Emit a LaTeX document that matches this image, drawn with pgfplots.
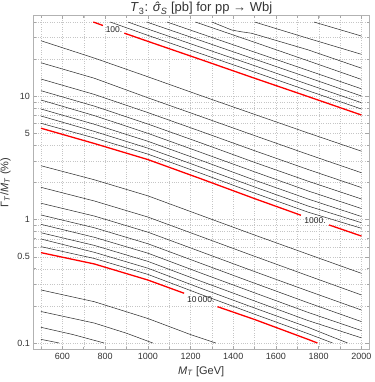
\documentclass[border=0pt]{standalone}
\usepackage{fontspec}
\setmainfont{Liberation Sans}
\usepackage{pgfplots}
\pgfplotsset{compat=1.18}
\newcommand{\sighat}{\textit{σ\kern-0.45em ˆ\kern0.12em}}
\begin{document}
\begin{tikzpicture}
\path[use as bounding box] (-33.5pt,-32.6pt) rectangle (340.5pt,349.4pt);
\begin{axis}[
  at={(0pt,0pt)}, anchor=south west,
  scale only axis, width=335.4pt, height=333.8pt,
  xmin=465, xmax=2035, ymode=log, ymin=0.0887, ymax=45.1,
  xtick={600,800,1000,1200,1400,1600,1800,2000},
  minor xtick={500,700,900,1100,1300,1500,1700,1900},
  ytick={0.1,0.5,1,5,10}, yticklabels={0.1,0.5,1,5,10},
  minor ytick={0.2,0.3,0.4,0.6,0.7,0.8,0.9,2,3,4,6,7,8,9,20,30,40},
  grid=both,
  grid style={dash pattern=on 0.7pt off 1.6pt, gray!45, line width=0.4pt},
  minor grid style={dash pattern=on 0.7pt off 1.6pt, gray!45, line width=0.4pt},
  axis line style={gray!60, line width=0.8pt},
  tick style={gray!70, line width=0.5pt},
  major tick length=3.5pt, minor tick length=2pt,
  scaled x ticks=false,
  /pgf/number format/1000 sep={},
  /pgf/number format/assume math mode=true,
  tick label style={font=\fontsize{9}{10}\selectfont, text=black!80},
  xlabel={\textit{M}\textsubscript{\textit{T}} [GeV]},
  ylabel={Γ\textsubscript{\textit{T}}/\textit{M}\textsubscript{\textit{T}} (\%)},
  label style={font=\fontsize{11}{12}\selectfont, text=black!80},
  title={\textit{T}\textsubscript{3}: \sighat\textsubscript{\textit{S}} [pb] for pp → Wbj},
  every axis title/.style={at={(0.5,1)}, anchor=base, yshift=3.6pt, inner sep=0pt, font=\fontsize{13}{14}\selectfont, text=black!80},
  no markers,
  cl/.style={draw=black!80, line width=0.55pt},
  rl/.style={draw=red, line width=1.3pt},
]
% levels 20 ... 90
\addplot[cl] coordinates {(1778,40.0) (2000,30.8)};
\addplot[cl] coordinates {(1500,40.0) (1750,29.5) (2000,21.9)};
\addplot[cl] coordinates {(1300,40.0) (1394,34.4) (1440,33.3) (1487,32.4) (1750,23.8) (2000,16.9)};
\addplot[cl] coordinates {(1223,40.0) (1500,27.4) (1750,19.4) (2000,13.7)};
\addplot[cl] coordinates {(1090,40.0) (1250,32.1) (1500,22.8) (1750,16.2) (2000,11.5)};
\addplot[cl] coordinates {(995,40.0) (1250,28.2) (1500,20.0) (1750,14.2) (2000,10.05)};
\addplot[cl] coordinates {(907,40.0) (1000,35.1) (1250,24.9) (1500,17.7) (1750,12.5) (2000,8.87)};
\addplot[cl] coordinates {(824,40.0) (1000,31.2) (1250,22.1) (1500,15.7) (1750,11.1) (2000,7.89)};
% level 100
\addplot[rl] coordinates {(745,40.0) (790,37.5)};
\addplot[rl] coordinates {(890,32.5) (1000,27.9) (1250,19.8) (1500,14.0) (1750,9.95) (2000,7.05)};
% levels 200 ... 900
\addplot[cl] coordinates {(500,28.2) (750,20.4) (1000,14.4) (1250,10.1) (1500,7.13) (1750,5.04) (2000,3.59)};
\addplot[cl] coordinates {(500,18.7) (750,14.0) (1000,9.73) (1250,6.84) (1500,4.80) (1750,3.38) (2000,2.40)};
\addplot[cl] coordinates {(500,13.8) (750,10.35) (1000,7.38) (1250,5.18) (1500,3.62) (1750,2.55) (2000,1.82)};
\addplot[cl] coordinates {(500,11.1) (750,8.32) (1000,5.96) (1250,4.18) (1500,2.91) (1750,2.05) (2000,1.47)};
\addplot[cl] coordinates {(500,9.33) (750,6.97) (1000,5.01) (1250,3.50) (1500,2.44) (1750,1.71) (2000,1.23)};
\addplot[cl] coordinates {(500,7.89) (750,5.93) (1000,4.32) (1250,3.02) (1500,2.09) (1750,1.47) (2000,1.06)};
\addplot[cl] coordinates {(500,6.92) (750,5.19) (1000,3.80) (1250,2.65) (1500,1.84) (1750,1.29) (2000,0.944)};
\addplot[cl] coordinates {(500,6.04) (750,4.59) (1000,3.40) (1250,2.37) (1500,1.64) (1750,1.15) (2000,0.851)};
% level 1000
\addplot[rl] coordinates {(500,5.51) (750,4.14) (1000,3.07) (1250,2.14) (1500,1.48) (1717,1.085)};
\addplot[rl] coordinates {(1848,0.906) (2000,0.736)};
% levels 2000 ... 9000
\addplot[cl] coordinates {(500,2.735) (750,2.104) (1000,1.560) (1250,1.081) (1500,0.750) (1750,0.524) (2000,0.367)};
\addplot[cl] coordinates {(500,1.828) (750,1.416) (1000,1.050) (1250,0.728) (1500,0.504) (1750,0.351) (2000,0.245)};
\addplot[cl] coordinates {(500,1.358) (750,1.069) (1000,0.792) (1250,0.548) (1500,0.379) (1750,0.264) (2000,0.185)};
\addplot[cl] coordinates {(500,1.091) (750,0.859) (1000,0.638) (1250,0.441) (1500,0.305) (1750,0.212) (2000,0.149)};
\addplot[cl] coordinates {(500,0.916) (750,0.719) (1000,0.535) (1250,0.368) (1500,0.255) (1750,0.177) (2000,0.126)};
\addplot[cl] coordinates {(500,0.783) (750,0.618) (1000,0.459) (1250,0.316) (1500,0.219) (1750,0.152) (2000,0.110)};
\addplot[cl] coordinates {(500,0.697) (750,0.543) (1000,0.404) (1250,0.277) (1500,0.192) (1750,0.134) (1935,0.1)};
\addplot[cl] coordinates {(500,0.604) (750,0.484) (1000,0.360) (1250,0.247) (1500,0.171) (1750,0.119) (1865,0.1)};
% level 10000
\addplot[rl] coordinates {(500,0.540) (750,0.437) (1000,0.324) (1170,0.253)};
\addplot[rl] coordinates {(1326,0.197) (1500,0.155) (1750,0.107) (1794,0.1)};
% levels 20000 ... 50000
\addplot[cl] coordinates {(500,0.269) (750,0.216) (1000,0.158) (1200,0.117) (1318,0.1)};
\addplot[cl] coordinates {(500,0.180) (750,0.145) (900,0.120) (1023,0.1)};
\addplot[cl] coordinates {(500,0.134) (650,0.117) (795,0.1)};
\addplot[cl] coordinates {(500,0.107) (585,0.1)};
% contour labels
\node[font=\fontsize{8.5}{9}\selectfont, text=black!85, inner sep=0pt] at (axis cs:842,34.8) {100.};
\node[font=\fontsize{8.5}{9}\selectfont, text=black!85, inner sep=0pt] at (axis cs:1783,0.99) {1000.};
\node[font=\fontsize{8.5}{9}\selectfont, text=black!85, inner sep=0pt] at (axis cs:1248,0.224) {10\,000.};
\end{axis}
\end{tikzpicture}
\end{document}
